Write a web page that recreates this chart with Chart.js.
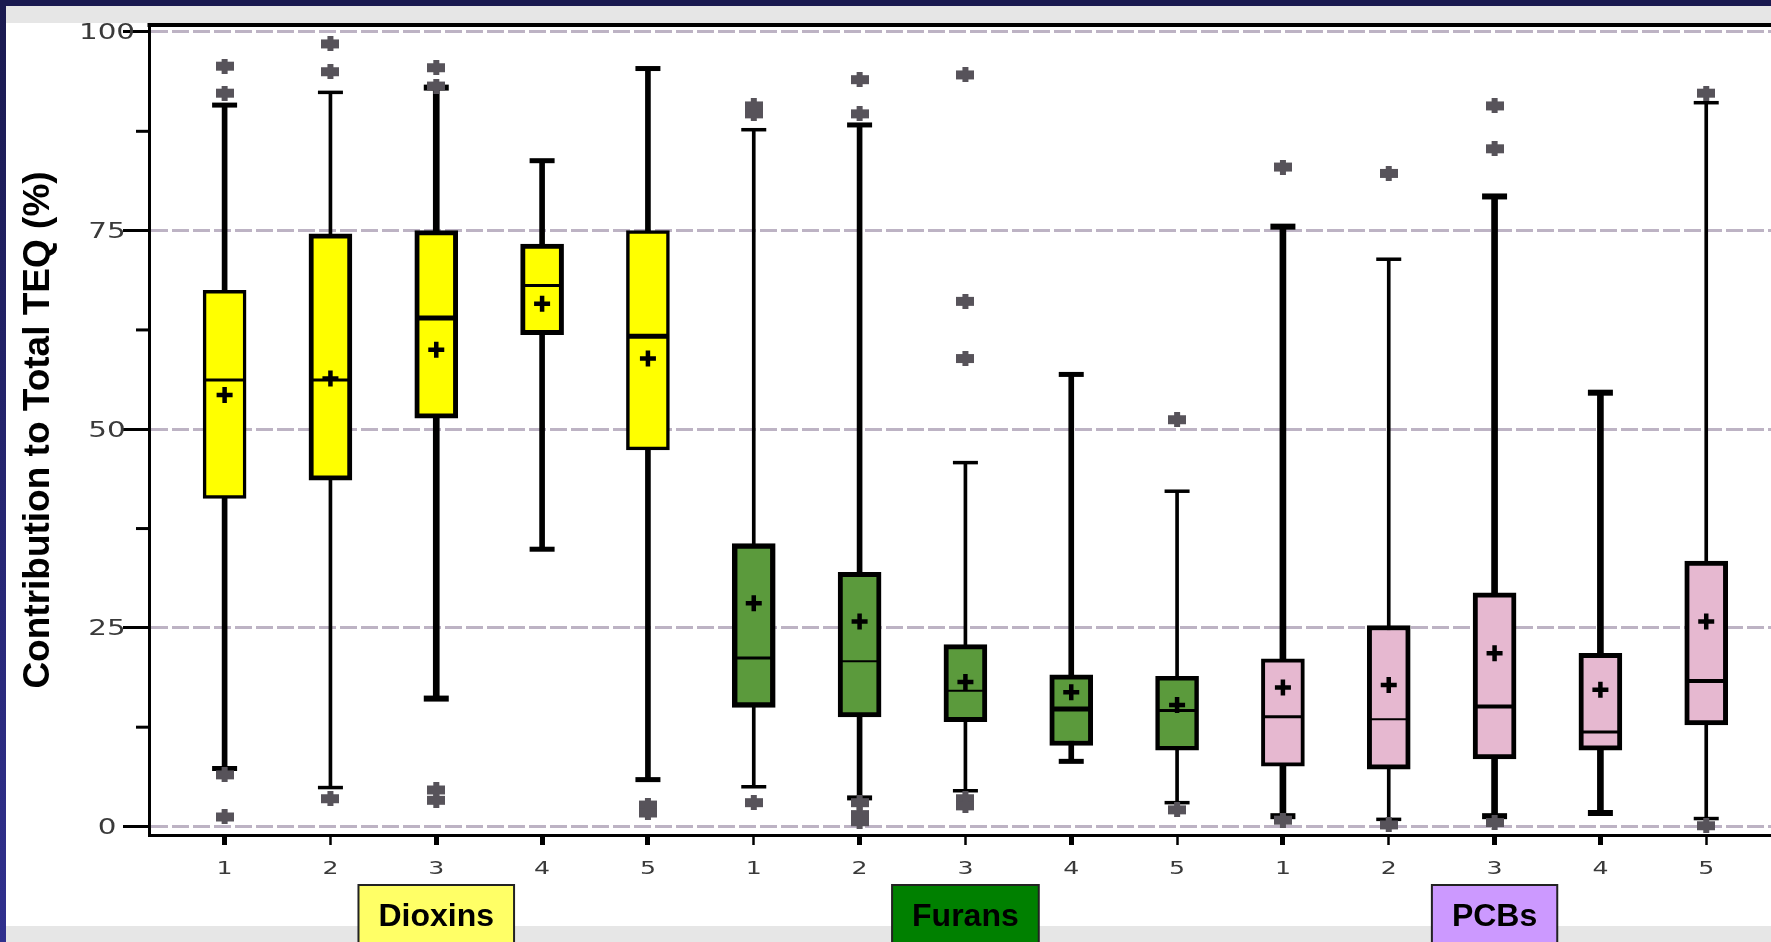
<!DOCTYPE html>
<html>
<head>
<meta charset="utf-8">
<title>Contribution to Total TEQ</title>
<script src="https://cdn.jsdelivr.net/npm/chart.js@4.4.1/dist/chart.umd.min.js"></script>
<style>
  html, body { margin: 0; padding: 0; background: #ffffff; overflow: hidden; }
  canvas { display: block; }
</style>
</head>
<body>
<canvas id="teq" width="1771" height="942"></canvas>
<script>
// ---- Data -------------------------------------------------------------
const groups = ['Dioxins', 'Furans', 'PCBs'];
const categoryLabels = ['1', '2', '3', '4', '5', '1', '2', '3', '4', '5', '1', '2', '3', '4', '5'];
const yTickValues = [0, 25, 50, 75, 100];
const yTickLabels = ['0', '25', '50', '75', '100'];
const yMinorTicks = [12.5, 37.5, 62.5, 87.5];

// Box-plot statistics, % of total TEQ, one entry per category
const whiskerLow  = [7.3, 4.9, 16.1, 34.9, 5.9,   5.0, 3.6, 4.5, 8.2, 3.0,    1.3, 0.9, 1.3, 1.7, 1.0];
const quartile1   = [41.3, 43.6, 51.4, 61.9, 47.4, 15.0, 13.8, 13.2, 10.2, 9.6, 7.6, 7.2, 8.5, 9.6, 12.8];
const medians     = [56.2, 56.2, 64.0, 68.1, 61.7, 21.2, 20.8, 17.1, 14.8, 14.6, 13.8, 13.5, 15.1, 11.9, 18.3];
const quartile3   = [67.5, 74.6, 75.0, 73.3, 75.0, 35.6, 32.0, 22.9, 19.1, 18.9, 21.1, 25.3, 29.4, 21.8, 33.4];
const whiskerHigh = [90.8, 92.4, 93.0, 83.8, 95.4, 87.7, 88.3, 45.8, 56.9, 42.2, 75.5, 71.4, 79.3, 54.6, 91.1];
const means       = [54.3, 56.4, 60.0, 65.8, 58.9, 28.1, 25.8, 18.2, 16.9, 15.3, 17.5, 17.8, 21.8, 17.2, 25.8];
const outliers = [
  [95.7, 92.3, 6.5, 1.2],
  [98.5, 95.0, 3.5],
  [95.5, 93.2, 4.6, 3.3],
  [],
  [2.7, 1.7],
  [90.7, 89.7, 3.0],
  [94.0, 89.7, 3.0, 1.5, 0.6],
  [94.6, 66.1, 58.9, 3.5, 2.6],
  [],
  [51.2, 2.1],
  [83.0, 0.8],
  [82.2, 0.2],
  [90.7, 85.3, 0.5],
  [],
  [92.3, 0.1]
];

// ---- Styles -----------------------------------------------------------
const groupFill    = ['#ffff00', '#5b9a3c', '#e6b8d0'];
const groupTagFill = ['#ffff66', '#008000', '#cc99ff'];
const whiskerWeight = [5, 3, 6, 5, 5, 3, 5, 3, 5, 3, 6, 3, 6, 6, 3];
const boxBorder     = [3.5, 5, 5, 5, 3.5, 5.5, 5, 5, 5, 4.5, 4, 5, 5, 5, 5];
const medianWeight  = [3, 3, 5, 3, 5, 3, 2, 2, 5, 3, 3, 2, 4, 3, 4];
const ink = '#000000';
const outlierInk = '#57535a';
const gridInk = '#bdb3c4';
const tickInk = '#3a3a3a';
const labelFamily = '"Liberation Sans", Arial, sans-serif';
const tickFamily = '"DejaVu Sans", sans-serif';

// ---- Datasets built from the arrays above -----------------------------
const cols = categoryLabels.map((_, i) => i);
const xOf = i => i + 1;
const groupOf = i => Math.floor(i / 5);

// whiskers: one floating bar per category, split by stroke weight
const whiskerSets = [...new Set(whiskerWeight)].map(w => ({
  type: 'bar',
  label: 'whisker',
  data: cols.filter(i => whiskerWeight[i] === w)
            .map(i => ({ x: xOf(i), y: [whiskerLow[i], whiskerHigh[i]] })),
  backgroundColor: ink,
  borderWidth: 0,
  barThickness: w,
  grouped: false,
  order: 6
}));

const boxSet = {
  type: 'bar',
  label: 'interquartile range',
  data: cols.map(i => ({ x: xOf(i), y: [quartile1[i], quartile3[i]] })),
  backgroundColor: cols.map(i => groupFill[groupOf(i)]),
  borderColor: ink,
  borderWidth: cols.map(i => boxBorder[i]),
  borderSkipped: false,
  barThickness: 43,
  grouped: false,
  order: 5
};

const medianSet = {
  type: 'scatter',
  label: 'median',
  data: cols.map(i => ({ x: xOf(i), y: medians[i] })),
  pointStyle: 'line',
  pointRadius: 20,
  pointBorderWidth: cols.map(i => medianWeight[i]),
  pointBorderColor: ink,
  order: 4
};

const capSet = {
  type: 'scatter',
  label: 'whisker caps',
  data: cols.map(i => ({ x: xOf(i), y: whiskerLow[i] }))
        .concat(cols.map(i => ({ x: xOf(i), y: whiskerHigh[i] }))),
  pointStyle: 'line',
  pointRadius: 12.5,
  pointBorderWidth: whiskerWeight.concat(whiskerWeight).map(w => Math.max(w, 3.5)),
  pointBorderColor: ink,
  order: 3
};

const meanSet = {
  type: 'scatter',
  label: 'mean',
  data: cols.map(i => ({ x: xOf(i), y: means[i] })),
  pointStyle: 'cross',
  pointRadius: 8,
  pointBorderWidth: 4.5,
  pointBorderColor: ink,
  order: 2
};

// outlier glyph: small dark block with a notch above and below
function outlierGlyph() {
  const c = document.createElement('canvas');
  c.width = 18; c.height = 15;
  const g = c.getContext('2d');
  g.fillStyle = outlierInk;
  g.fillRect(0, 3, 18, 9);
  g.fillRect(6, 0, 6, 15);
  return c;
}

const outlierSet = {
  type: 'scatter',
  label: 'outliers',
  data: cols.flatMap(i => outliers[i].map(v => ({ x: xOf(i), y: v }))),
  pointStyle: outlierGlyph(),
  pointRadius: 8,
  order: 1
};

// ---- Plugins ----------------------------------------------------------
const backdrop = {
  id: 'backdrop',
  beforeDraw(chart) {
    const { ctx, width, height } = chart;
    ctx.save();
    ctx.fillStyle = '#ffffff';
    ctx.fillRect(0, 0, width, height);
    ctx.fillStyle = '#e6e6e6';
    ctx.fillRect(6, 6, width - 6, 17);
    ctx.fillRect(6, 926, width - 6, height - 926);
    const edge = ctx.createLinearGradient(0, 0, 0, height);
    edge.addColorStop(0, '#1a1a50');
    edge.addColorStop(1, '#30308e');
    ctx.fillStyle = edge;
    ctx.fillRect(0, 0, 6, height);
    ctx.fillStyle = '#1a1a50';
    ctx.fillRect(0, 0, width, 6);
    ctx.restore();
  }
};

const frame = {
  id: 'frame',
  afterDatasetsDraw(chart) {
    const { ctx, chartArea: a, scales: { y } } = chart;
    ctx.save();
    ctx.strokeStyle = ink;
    ctx.lineWidth = 4;
    ctx.beginPath();
    ctx.moveTo(a.left - 1.5, a.top);
    ctx.lineTo(a.right, a.top);
    ctx.stroke();
    ctx.lineWidth = 3;
    yMinorTicks.forEach(v => {
      const py = y.getPixelForValue(v);
      ctx.beginPath();
      ctx.moveTo(a.left - 13, py);
      ctx.lineTo(a.left, py);
      ctx.stroke();
    });
    ctx.restore();
  }
};

// tick labels, drawn with a wide horizontal stretch
const tickText = {
  id: 'tickText',
  afterDraw(chart) {
    const { ctx, chartArea: a, scales: { x, y } } = chart;
    const put = (text, px, py, stretch) => {
      ctx.save();
      ctx.translate(px, py);
      ctx.scale(stretch, 1);
      ctx.fillText(text, 0, 0);
      ctx.restore();
    };
    ctx.save();
    ctx.fillStyle = tickInk;
    ctx.textAlign = 'center';
    ctx.textBaseline = 'middle';
    ctx.font = '21px ' + tickFamily;
    yTickValues.forEach((v, i) => put(yTickLabels[i], a.left - 42, y.getPixelForValue(v) + 2, 1.4));
    ctx.font = '18px ' + tickFamily;
    categoryLabels.forEach((t, i) => put(t, x.getPixelForValue(xOf(i)), a.bottom + 34, 1.4));
    ctx.restore();
  }
};

const groupTags = {
  id: 'groupTags',
  afterDraw(chart) {
    const { ctx, scales: { x } } = chart;
    ctx.save();
    ctx.font = 'bold 32px ' + labelFamily;
    ctx.textAlign = 'center';
    ctx.textBaseline = 'alphabetic';
    groups.forEach((name, g) => {
      const cx = x.getPixelForValue(g * 5 + 3);
      const w = ctx.measureText(name).width + 40;
      const top = 885;
      ctx.fillStyle = groupTagFill[g];
      ctx.fillRect(cx - w / 2, top, w, 80);
      ctx.strokeStyle = '#222222';
      ctx.lineWidth = 2;
      ctx.strokeRect(cx - w / 2, top, w, 80);
      ctx.fillStyle = ink;
      ctx.fillText(name, cx, 926);
    });
    ctx.restore();
  }
};

// ---- Chart ------------------------------------------------------------
new Chart(document.getElementById('teq'), {
  type: 'bar',
  data: {
    datasets: [...whiskerSets, boxSet, medianSet, capSet, meanSet, outlierSet]
  },
  plugins: [backdrop, frame, tickText, groupTags],
  options: {
    responsive: false,
    devicePixelRatio: 1,
    animation: false,
    events: [],
    layout: { autoPadding: false, padding: { top: 25, left: 0, right: 0, bottom: 0 } },
    plugins: {
      legend: { display: false },
      tooltip: { enabled: false }
    },
    scales: {
      x: {
        type: 'linear',
        min: 0.2856,
        max: 15.612,
        offset: false,
        afterBuildTicks(scale) {
          scale.ticks = categoryLabels.map((_, i) => ({ value: xOf(i) }));
        },
        afterFit(scale) { scale.height = 107; },
        ticks: { display: false },
        grid: {
          offset: false,
          drawOnChartArea: false,
          drawTicks: true,
          tickLength: 10,
          tickColor: ink,
          tickWidth: c => (whiskerWeight[c.index] >= 5 ? 5 : 2.5),
          tickBorderDash: []
        },
        border: { display: true, color: ink, width: 3 }
      },
      y: {
        type: 'linear',
        min: -1.07,
        max: 100.88,
        afterBuildTicks(scale) {
          scale.ticks = yTickValues.map(v => ({ value: v }));
        },
        afterFit(scale) { scale.width = 149; },
        ticks: { display: false },
        grid: {
          color: gridInk,
          lineWidth: 3,
          drawTicks: true,
          tickLength: 26,
          tickColor: ink,
          tickWidth: 3,
          tickBorderDash: []
        },
        border: { display: true, color: ink, width: 3, dash: [17, 4] },
        title: {
          display: true,
          text: 'Contribution to Total TEQ (%)',
          color: ink,
          font: { family: labelFamily, size: 37, weight: 'bold' },
          padding: { top: 17, bottom: 0 }
        }
      }
    }
  }
});
</script>
</body>
</html>
